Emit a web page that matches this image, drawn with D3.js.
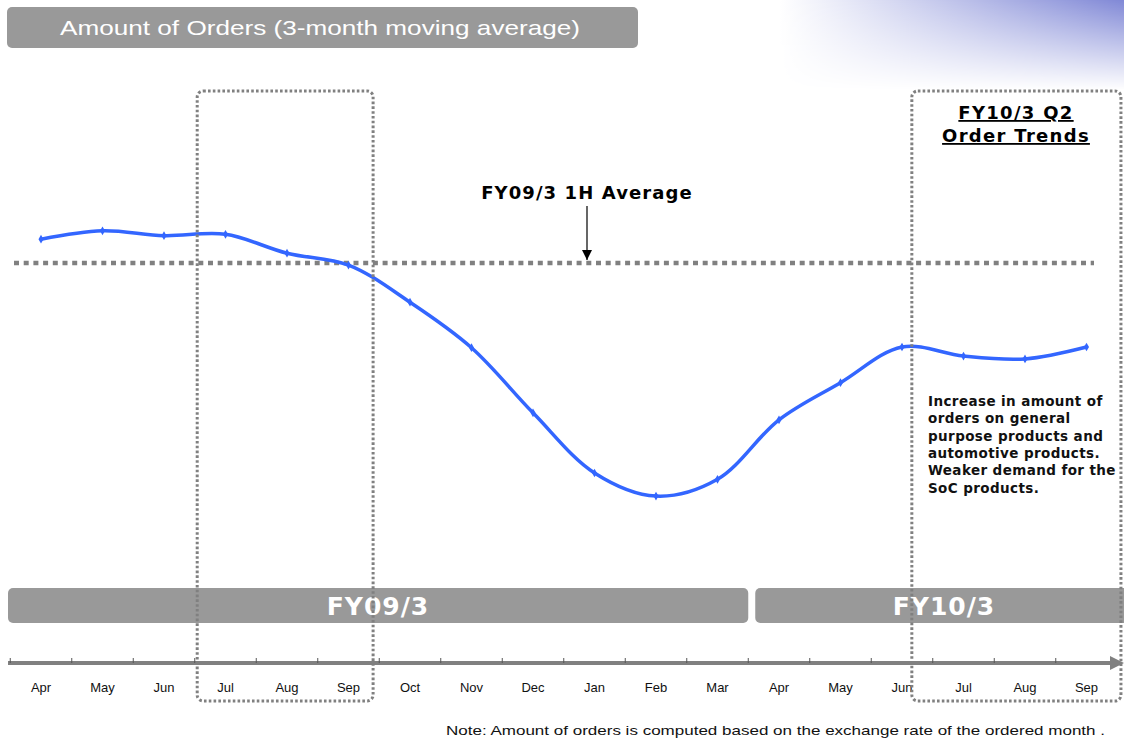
<!DOCTYPE html>
<html>
<head>
<meta charset="utf-8">
<script src="https://cdn.jsdelivr.net/npm/d3@7"></script>
<style>
  body { margin: 0; background: #fff; }
  svg { display: block; }
</style>
</head>
<body>
<div id="chart"></div>
<script>
// months on the axis (FY09/3 Apr .. FY10/3 Sep)
const months = ["Apr", "May", "Jun", "Jul", "Aug", "Sep", "Oct", "Nov", "Dec",
                "Jan", "Feb", "Mar", "Apr", "May", "Jun", "Jul", "Aug", "Sep"];
// amount of orders, 3-month moving average (index, FY09/3 1H average = 100)
const orders = [103.4, 104.6, 103.9, 104.1, 101.4, 99.7, 94.4, 87.9, 78.6,
                70.0, 66.7, 69.1, 77.6, 82.9, 88.0, 86.7, 86.3, 88.0];
const average1H = 100;
// fiscal year bands: [label, first month index, last month index]
const fiscalYears = [["FY09/3", 0, 12], ["FY10/3", 12, 18.3]];
// highlighted periods, in month positions on the axis
const highlights = [[3.04, 5.9], [14.66, 18.06]];
const noteLines = ["Increase in amount of", "orders on general", "purpose products and",
                   "automotive products.", "Weaker demand for the", "SoC products."];

const W = 1124, H = 738;
const svg = d3.select("#chart").append("svg").attr("width", W).attr("height", H);
const defs = svg.append("defs");

// top-right decoration gradient
const gH = defs.append("linearGradient").attr("id", "gH");
gH.append("stop").attr("offset", "0%").attr("stop-color", "#ffffff");
gH.append("stop").attr("offset", "100%").attr("stop-color", "#8088d6");
const gV = defs.append("linearGradient").attr("id", "gV").attr("x1", 0).attr("x2", 0).attr("y1", 0).attr("y2", 1);
gV.append("stop").attr("offset", "0%").attr("stop-color", "#fff").attr("stop-opacity", 1);
gV.append("stop").attr("offset", "100%").attr("stop-color", "#fff").attr("stop-opacity", 0);
defs.append("mask").attr("id", "fadeMask")
  .append("rect").attr("x", 780).attr("y", 0).attr("width", 344).attr("height", 90).attr("fill", "url(#gV)");
svg.append("rect")
  .attr("x", 780).attr("y", 0).attr("width", 344).attr("height", 90)
  .attr("fill", "url(#gH)").attr("mask", "url(#fadeMask)");

// scales: continuous month position (0 = start of first Apr) and band scale for labels
const xm = d3.scaleLinear().domain([0, 18]).range([10.25, 10.25 + 61.5 * 18]);
const x = d3.scaleBand().domain(d3.range(months.length)).range(xm.range()).padding(0);
const cx = i => x(i) + x.bandwidth() / 2;
const y = d3.scaleLinear().domain([50, 110]).range([613, 193]);

const bold = "DejaVu Sans, Verdana, sans-serif";

// title box
svg.append("rect").attr("x", 7).attr("y", 7).attr("width", 631).attr("height", 41)
  .attr("rx", 5).attr("fill", "#999999");
svg.append("text").attr("x", 60).attr("y", 35)
  .attr("textLength", 520).attr("lengthAdjust", "spacingAndGlyphs")
  .attr("fill", "#fff").attr("font-family", "Liberation Sans, Arial, sans-serif")
  .attr("font-size", 21).text("Amount of Orders (3-month moving average)");

// FY09/3 1H average line
svg.append("line")
  .attr("x1", 14).attr("x2", 1094)
  .attr("y1", y(average1H)).attr("y2", y(average1H))
  .attr("stroke", "#808080").attr("stroke-width", 4.5).attr("stroke-dasharray", "5,4.7");

svg.append("text").attr("x", 587).attr("y", 199).attr("text-anchor", "middle")
  .attr("font-family", bold).attr("font-weight", "bold")
  .attr("font-size", 18).attr("letter-spacing", 1.1).attr("fill", "#000").text("FY09/3 1H Average");

defs.append("marker").attr("id", "arrow").attr("viewBox", "0 0 10 10")
  .attr("refX", 10).attr("refY", 5).attr("markerWidth", 10).attr("markerHeight", 10)
  .attr("markerUnits", "userSpaceOnUse").attr("orient", "auto")
  .append("path").attr("d", "M0,0 L10,5 L0,10 Z").attr("fill", "#000");
svg.append("line").attr("x1", 587).attr("x2", 587).attr("y1", 206).attr("y2", y(average1H) - 3)
  .attr("stroke", "#000").attr("stroke-width", 1.2).attr("marker-end", "url(#arrow)");

// order line
const line = d3.line()
  .x((d, i) => cx(i))
  .y(d => y(d))
  .curve(d3.curveCatmullRom.alpha(0.5));

svg.append("path").datum(orders)
  .attr("d", line)
  .attr("fill", "none").attr("stroke", "#3366ff").attr("stroke-width", 3.5);

svg.selectAll(".mark").data(orders).join("path")
  .attr("class", "mark")
  .attr("transform", (d, i) => `translate(${cx(i)},${y(d)})`)
  .attr("d", d3.symbol().type(d3.symbolDiamond).size(22))
  .attr("fill", "#3366ff");

// annotation texts
const q2 = svg.append("text").attr("text-anchor", "middle")
  .attr("font-family", bold).attr("font-weight", "bold")
  .attr("font-size", 18).attr("letter-spacing", 1.3).attr("fill", "#000").attr("text-decoration", "underline");
q2.append("tspan").attr("x", 1016).attr("y", 119).text("FY10/3 Q2");
q2.append("tspan").attr("x", 1016).attr("y", 142).text("Order Trends");

svg.append("g").selectAll("text").data(noteLines).join("text")
  .attr("x", 928).attr("y", (d, i) => 406 + i * 17.3)
  .attr("font-family", bold).attr("font-weight", "bold")
  .attr("font-size", 13.5).attr("letter-spacing", 0.4).attr("fill", "#111").text(d => d);

// fiscal year bars
const fy = svg.append("g").selectAll("g").data(fiscalYears).join("g");
fy.append("rect")
  .attr("x", d => d[1] === 0 ? 8 : xm(d[1]) + 7)
  .attr("y", 588).attr("height", 35)
  .attr("width", d => d[1] === 0 ? xm(d[2]) - 8 : xm(d[2]) - xm(d[1]) - 7)
  .attr("rx", 5).attr("fill", "#999999");
fy.append("text")
  .attr("x", d => d[1] === 0 ? 378 : 944).attr("y", 615)
  .attr("text-anchor", "middle").attr("fill", "#fff")
  .attr("font-family", bold).attr("font-weight", "bold")
  .attr("font-size", 25).attr("letter-spacing", 1).text(d => d[0]);

// time axis
const axisY = 663;
svg.append("line").attr("x1", 8).attr("x2", 1112).attr("y1", axisY).attr("y2", axisY)
  .attr("stroke", "#808080").attr("stroke-width", 4);
svg.append("path").attr("d", `M1110,${axisY - 7} L1124,${axisY} L1110,${axisY + 7} Z`).attr("fill", "#808080");

svg.append("g").selectAll("line").data(d3.range(months.length)).join("line")
  .attr("x1", i => x(i)).attr("x2", i => x(i))
  .attr("y1", axisY - 5).attr("y2", axisY)
  .attr("stroke", "#555").attr("stroke-width", 1);

const ax = svg.append("g").attr("transform", `translate(0,${axisY + 17})`)
  .call(d3.axisBottom(x).tickSize(0).tickFormat(i => months[i]));
ax.select(".domain").remove();
ax.selectAll("text").attr("font-family", "Liberation Sans, Arial, sans-serif")
  .attr("font-size", 13).attr("fill", "#111");

// note
svg.append("text").attr("x", 446).attr("y", 735)
  .attr("textLength", 659).attr("lengthAdjust", "spacingAndGlyphs")
  .attr("font-family", "Liberation Sans, Arial, sans-serif").attr("font-size", 13.5).attr("fill", "#111")
  .text("Note: Amount of orders is computed based on the exchange rate of the ordered month .");

// dotted highlight boxes, drawn on top
svg.append("g").selectAll("rect").data(highlights).join("rect")
  .attr("x", d => xm(d[0]))
  .attr("y", 91)
  .attr("width", d => xm(d[1]) - xm(d[0]))
  .attr("height", 610)
  .attr("rx", 6)
  .attr("fill", "none").attr("stroke", "#808080").attr("stroke-width", 3)
  .attr("stroke-dasharray", "2.6,2.2");
</script>
</body>
</html>
